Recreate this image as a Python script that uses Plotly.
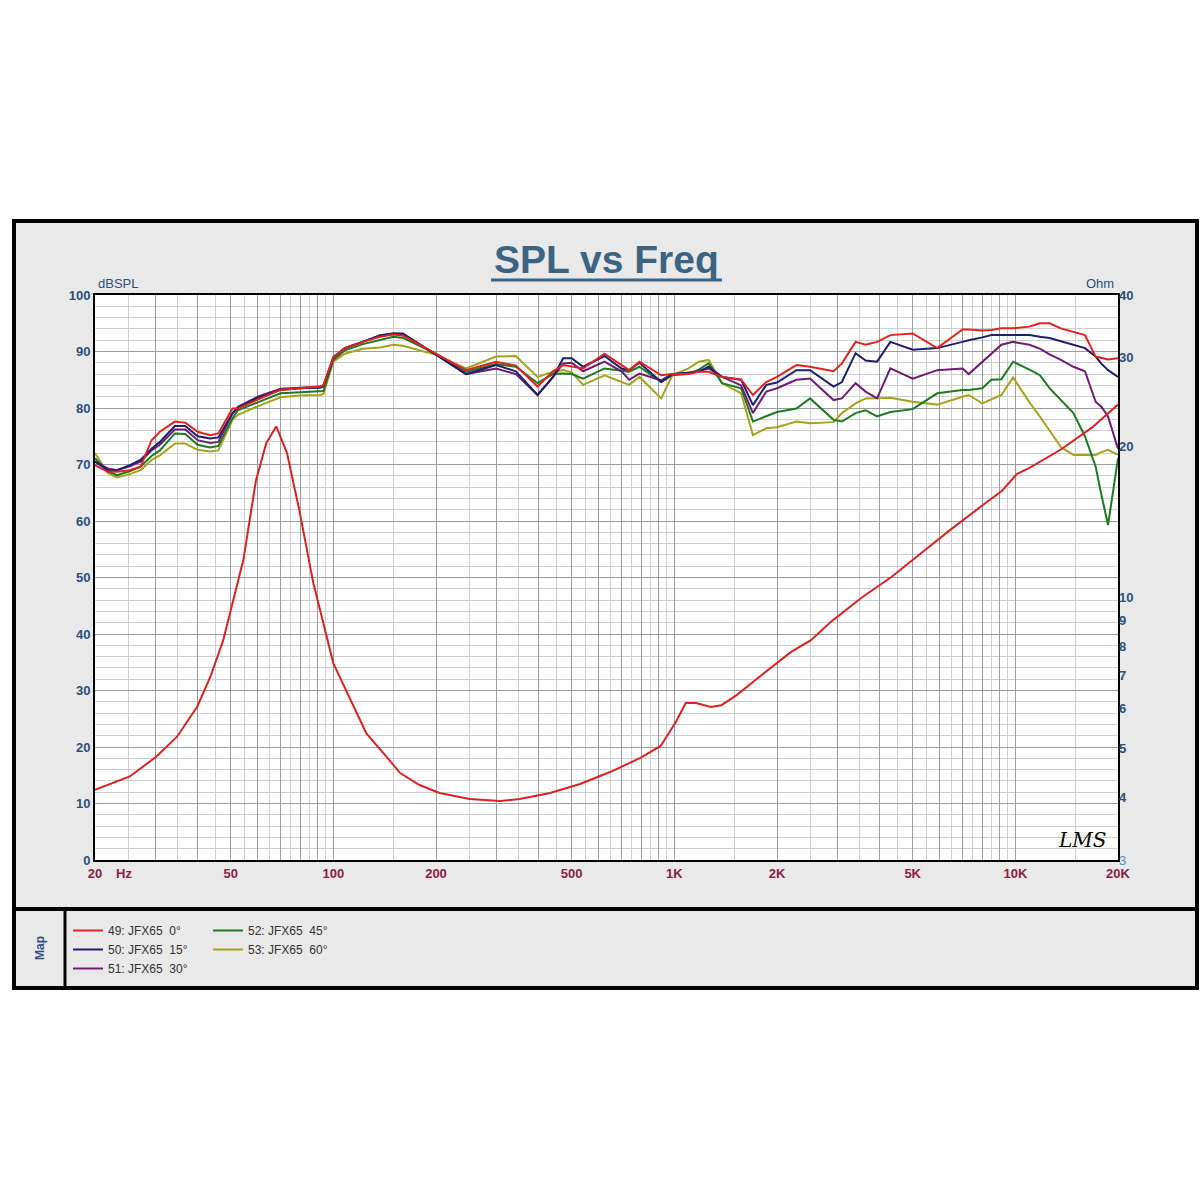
import math
import plotly.graph_objects as go

# ---------------- data ----------------
freq = [20, 21.8, 23.2, 25.3, 27.2, 29.3, 31, 34.3, 36.8, 40, 43.5, 46, 50.6, 52.5, 60,
        70, 80, 91.5, 93.5, 100, 108, 122, 137, 150, 160, 200, 245, 300, 343, 397,
        441, 472, 500, 540, 624, 700, 737, 790, 915, 986, 1100, 1180, 1260, 1380, 1570,
        1700, 1860, 2000, 2280, 2500, 2930, 3100, 3400, 3640, 3930, 4300, 5000, 5900, 7000, 7300,
        8000, 8500, 9100, 9850, 11000, 11800, 12600, 13600, 14800, 16000, 17200, 17900, 18700, 20000]

spl_0 = [69.9, 68.7, 68.7, 69.0, 69.6, 74.3, 75.8, 77.6, 77.4, 75.8, 75.2, 75.5, 79.9, 79.9, 81.5,
         83.2, 83.5, 83.8, 84.0, 89.0, 90.6, 91.7, 92.6, 93.0, 92.8, 89.6, 86.7, 88.2, 87.5, 83.8,
         86.5, 87.6, 87.3, 87.0, 89.6, 87.5, 86.7, 88.2, 85.8, 86.0, 86.0, 86.4, 86.4, 85.5, 85.0,
         82.3, 84.6, 85.5, 87.6, 87.3, 86.5, 87.9, 91.7, 91.2, 91.7, 92.9, 93.2, 90.6, 93.9, 93.9,
         93.7, 93.8, 94.1, 94.1, 94.4, 95.0, 95.0, 94.1, 93.5, 92.9, 89.1, 88.8, 88.6, 88.8]

spl_15 = [70.5, 69.0, 69.0, 69.9, 70.8, 72.8, 74.0, 76.8, 76.8, 75.0, 74.6, 74.8, 79.1, 80.0, 81.8,
          83.2, 83.5, 83.6, 83.8, 89.0, 90.6, 91.7, 92.9, 93.2, 93.2, 89.4, 86.0, 87.6, 86.5, 82.3,
          85.5, 88.8, 88.8, 87.3, 89.2, 87.0, 86.7, 88.0, 84.6, 86.0, 86.2, 86.4, 87.3, 85.5, 85.0,
          80.5, 84.1, 84.5, 86.7, 86.7, 83.8, 84.6, 89.7, 88.4, 88.2, 91.7, 90.3, 90.6, 91.7, 92.0,
          92.5, 92.9, 92.9, 92.9, 92.9, 92.6, 92.4, 91.8, 91.2, 90.6, 89.1, 87.8, 86.7, 85.5]

spl_30 = [70.5, 69.3, 69.0, 69.7, 70.5, 72.5, 73.5, 76.2, 76.2, 74.3, 73.8, 74.0, 79.0, 80.2, 82.0,
          83.4, 83.6, 83.8, 84.0, 88.8, 90.6, 91.8, 92.8, 93.2, 93.0, 89.5, 86.0, 87.0, 86.0, 82.3,
          85.5, 87.9, 88.0, 86.5, 88.2, 86.5, 85.0, 86.1, 84.9, 86.0, 86.2, 86.6, 87.0, 85.5, 84.0,
          79.1, 82.9, 83.5, 85.0, 85.2, 81.4, 81.7, 84.4, 82.9, 81.7, 87.0, 85.2, 86.7, 87.0, 86.0,
          88.2, 89.7, 91.2, 91.7, 91.2, 90.5, 89.5, 88.5, 87.3, 86.5, 81.1, 80.2, 78.5, 72.8]

spl_45 = [71.1, 68.8, 68.1, 68.8, 69.6, 71.5, 72.5, 75.5, 75.4, 73.5, 73.0, 73.3, 78.2, 79.6, 81.0,
          82.6, 82.8, 82.9, 83.0, 88.5, 90.2, 91.3, 92.0, 92.6, 92.4, 89.6, 86.4, 87.8, 87.3, 84.4,
          86.0, 86.1, 86.0, 85.2, 87.0, 86.5, 86.4, 87.3, 84.6, 85.8, 86.0, 86.8, 87.9, 84.4, 83.5,
          77.6, 78.5, 79.3, 79.9, 81.7, 77.9, 77.6, 79.1, 79.6, 78.5, 79.3, 79.8, 82.6, 83.2, 83.2,
          83.5, 85.0, 85.1, 88.2, 86.8, 85.8, 83.5, 81.5, 79.1, 75.0, 69.6, 64.5, 59.3, 71.1]

spl_60 = [72.0, 68.5, 67.7, 68.3, 69.0, 70.8, 71.6, 73.7, 73.7, 72.6, 72.3, 72.5, 77.9, 78.8, 80.3,
          81.9, 82.2, 82.3, 82.5, 88.2, 89.6, 90.5, 90.7, 91.2, 91.0, 89.4, 87.0, 89.1, 89.2, 85.5,
          86.4, 86.7, 86.3, 84.1, 85.8, 84.6, 84.1, 85.5, 81.7, 85.8, 87.0, 88.2, 88.5, 84.4, 82.6,
          75.2, 76.4, 76.6, 77.6, 77.3, 77.5, 79.1, 80.8, 81.7, 81.7, 81.8, 81.1, 80.6, 82.0, 82.3,
          80.8, 81.5, 82.3, 85.4, 81.0, 78.5, 76.0, 73.1, 71.7, 71.7, 71.7, 72.2, 72.6, 71.7]

imp_freq = [20, 25.3, 30.3, 34.8, 39.9, 43.6, 47.5, 50.7, 54.5, 59.3, 63.6, 68, 73.1, 79.5, 87.3,
            100, 109, 125, 146, 157, 179, 205, 251, 308, 352, 432, 529, 648, 795, 912,
            1010, 1080, 1157, 1280, 1373, 1523, 1800, 2200, 2515, 2880, 3530, 4330, 5300, 6500, 7960,
            9140, 10100, 11000, 13600, 16800, 20000]
imp_ohm = [4.14, 4.40, 4.82, 5.28, 6.06, 6.95, 8.2, 9.74, 11.9, 17.1, 20.3, 21.9, 19.4, 14.9, 10.7,
           7.39, 6.54, 5.36, 4.74, 4.47, 4.23, 4.08, 3.97, 3.93, 3.97, 4.08, 4.25, 4.49, 4.79, 5.06,
           5.65, 6.16, 6.16, 6.05, 6.1, 6.39, 7.0, 7.79, 8.22, 8.94, 9.97, 10.98, 12.26, 13.69, 15.2,
           16.3, 17.6, 18.1, 19.7, 21.8, 24.2]

series_names = ["49: JFX65\u00a0\u00a00°", "50: JFX65\u00a0\u00a015°", "51: JFX65\u00a0\u00a030°",
                "52: JFX65\u00a0\u00a045°", "53: JFX65\u00a0\u00a060°"]
series_colors = ["#e3221f", "#1c1f6e", "#6e1d72", "#1e7a22", "#a3a31c"]

x_tick_vals = [20, 50, 100, 200, 500, 1000, 2000, 5000, 10000, 20000]
x_tick_text = ["20", "50", "100", "200", "500", "1K", "2K", "5K", "10K", "20K"]
ohm_tick_vals = [3, 4, 5, 6, 7, 8, 9, 10, 20, 30, 40]

# ---------------- layout helpers ----------------
W, H = 1200, 1200
PL, PR, PT, PB = 95, 1118, 295, 860


def px(x):
    return (x - PL) / (PR - PL)


def py(y):
    return (PB - y) / (PB - PT)


# gridline positions (log frequency grid like LMS)
major_grid, minor_grid = [], []
for dec in [10, 100, 1000, 10000]:
    for k in range(1, 11):
        f = dec * k
        if 20 < f < 20000 and f not in major_grid:
            major_grid.append(f)
    for k in range(1, 10):
        f = dec * (k + 0.5)
        if 20 < f < 20000:
            minor_grid.append(f)

all_tickvals = [20] + major_grid + [20000]
label_map = dict(zip(x_tick_vals, x_tick_text))
all_ticktext = [label_map.get(v, "") for v in all_tickvals]

fig = go.Figure()

spl_series = [spl_0, spl_15, spl_30, spl_45, spl_60]
order = [4, 3, 2, 1, 0]
for i in order:
    fig.add_trace(go.Scatter(
        x=freq, y=spl_series[i], mode="lines", name=series_names[i],
        line=dict(color=series_colors[i], width=2),
        legend="legend" if i < 3 else "legend2", legendrank=i + 1,
    ))

fig.add_trace(go.Scatter(
    x=imp_freq, y=imp_ohm, mode="lines", yaxis="y2", showlegend=False,
    line=dict(color="#d92323", width=2),
))

ohm_text = []
for v in ohm_tick_vals:
    if v == 3:
        ohm_text.append("<span style='color:#4a8fd0;font-weight:normal'>3</span>")
    else:
        ohm_text.append(str(v))

title_color = "#3c6482"
axis_blue = "#2c4f7e"
x_red = "#8c1d45"

shapes = [
    # gray outer panel
    dict(type="rect", xref="paper", yref="paper", x0=px(14), x1=px(1197), y0=py(988), y1=py(221),
         fillcolor="#e9e9e9", line=dict(color="black", width=4), layer="below"),
    # white plot area
    dict(type="rect", xref="paper", yref="paper", x0=0, x1=1, y0=0, y1=1,
         fillcolor="white", line=dict(width=0), layer="below"),
    # legend divider
    dict(type="line", xref="paper", yref="paper", x0=px(14), x1=px(1197), y0=py(909), y1=py(909),
         line=dict(color="black", width=4)),
    dict(type="line", xref="paper", yref="paper", x0=px(65), x1=px(65), y0=py(909), y1=py(988),
         line=dict(color="black", width=3)),
    # title underline
    dict(type="line", xref="paper", yref="paper", x0=px(491), x1=px(722), y0=py(280), y1=py(280),
         line=dict(color=title_color, width=3)),
]

annotations = [
    dict(text="<b>SPL vs Freq</b>", xref="paper", yref="paper", x=px(606), y=py(260),
         xanchor="center", yanchor="middle", showarrow=False,
         font=dict(family="Liberation Sans, Arial", size=39, color=title_color)),
    dict(text="dBSPL", xref="paper", yref="paper", x=px(96), y=py(283), xanchor="left", yanchor="middle",
         showarrow=False, font=dict(family="Liberation Sans, Arial", size=13, color=axis_blue)),
    dict(text="Ohm", xref="paper", yref="paper", x=px(1116), y=py(283), xanchor="right", yanchor="middle",
         showarrow=False, font=dict(family="Liberation Sans, Arial", size=13, color=axis_blue)),
    dict(text="<b>Hz</b>", xref="paper", yref="paper", x=px(114), y=py(873), xanchor="left", yanchor="middle",
         showarrow=False, font=dict(family="Liberation Sans, Arial", size=13, color=x_red)),
    dict(text="<b>Map</b>", xref="paper", yref="paper", x=px(40), y=py(948), xanchor="center", yanchor="middle",
         textangle=-90, showarrow=False, font=dict(family="Liberation Sans, Arial", size=12, color=axis_blue)),
    dict(text="<i>LMS</i>", xref="paper", yref="paper", x=px(1082), y=py(840), xanchor="center", yanchor="middle",
         showarrow=False, font=dict(family="DejaVu Serif", size=20, color="black")),
]

fig.update_layout(
    width=W, height=H,
    margin=dict(l=PL, r=W - PR, t=PT, b=H - PB, pad=0),
    paper_bgcolor="white", plot_bgcolor="white",
    font=dict(family="Liberation Sans, Arial", size=13),
    shapes=shapes, annotations=annotations,
    xaxis=dict(type="log", range=[math.log10(20), math.log10(20000)],
               tickmode="array", tickvals=all_tickvals, ticktext=all_ticktext,
               ticks="", ticklen=0, showgrid=True, gridcolor="#9c9c9c", gridwidth=1,
               tickfont=dict(color=x_red, size=13, weight="bold"),
               showline=True, mirror=True, linecolor="black", linewidth=2,
               minor=dict(tickmode="array", tickvals=minor_grid, showgrid=True,
                          gridcolor="#cfcfcf", gridwidth=1, ticks=""),
               zeroline=False),
    yaxis=dict(range=[0, 100], tickmode="linear", tick0=0, dtick=10,
               ticks="", showgrid=True, gridcolor="#9c9c9c", gridwidth=1,
               tickfont=dict(color=axis_blue, size=13, weight="bold"),
               showline=True, mirror=True, linecolor="black", linewidth=2,
               minor=dict(dtick=2, showgrid=True, gridcolor="#cfcfcf", gridwidth=1, ticks=""),
               zeroline=False),
    yaxis2=dict(type="log", overlaying="y", side="right",
                range=[math.log10(3), math.log10(40)],
                tickmode="array", tickvals=ohm_tick_vals, ticktext=ohm_text,
                ticks="", showgrid=False, zeroline=False,
                tickfont=dict(color=axis_blue, size=13, weight="bold")),
    legend=dict(x=px(68), y=py(916), xanchor="left", yanchor="top", bgcolor="rgba(0,0,0,0)",
                font=dict(family="Liberation Sans, Arial", size=12, color="#333333"),
                tracegroupgap=0, itemwidth=30, traceorder="normal"),
    legend2=dict(x=px(208), y=py(916), xanchor="left", yanchor="top", bgcolor="rgba(0,0,0,0)",
                 font=dict(family="Liberation Sans, Arial", size=12, color="#333333"),
                 tracegroupgap=0, itemwidth=30, traceorder="normal"),
)

fig.write_html("out.html")
